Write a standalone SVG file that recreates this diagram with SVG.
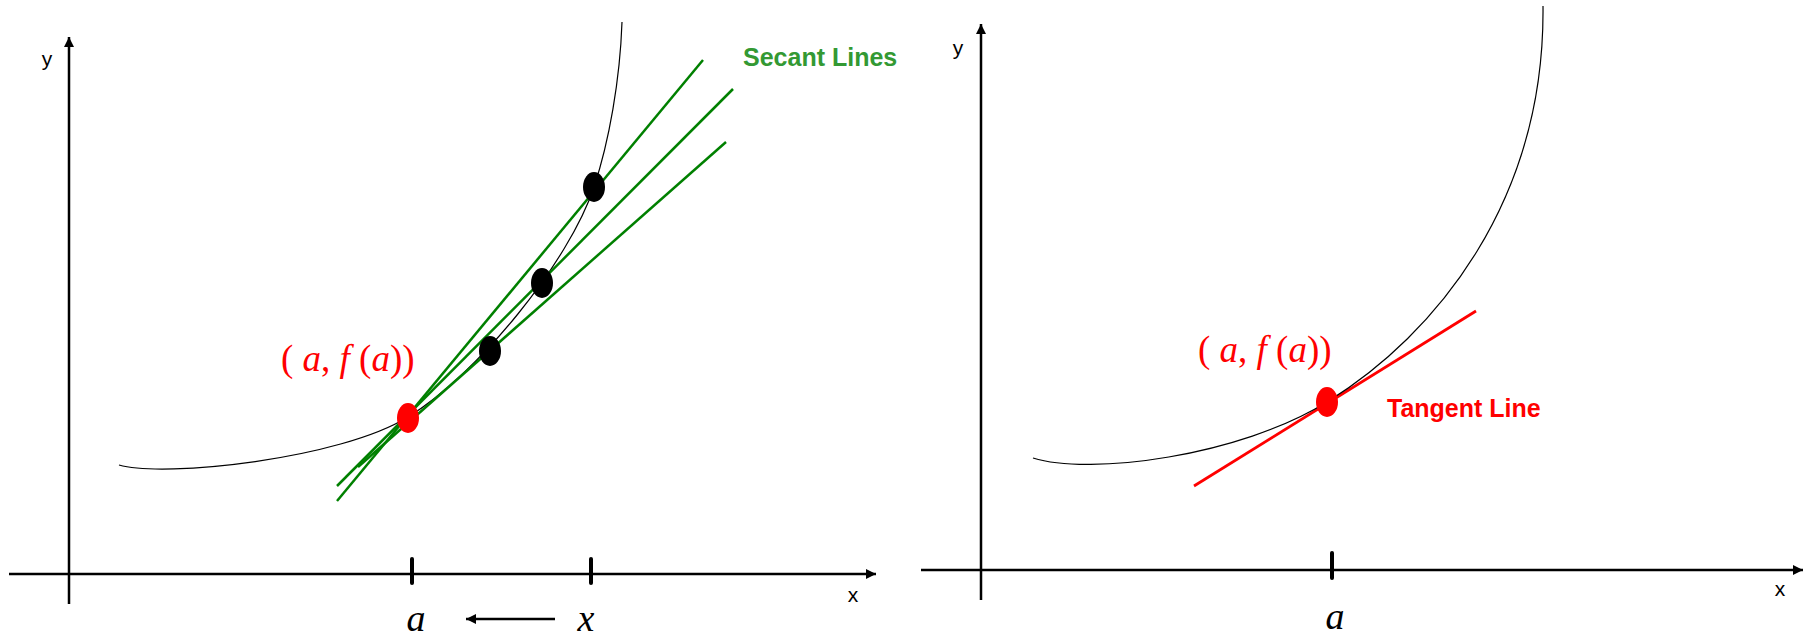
<svg xmlns="http://www.w3.org/2000/svg" width="1807" height="639" viewBox="0 0 1807 639">
<style>
.axis{stroke:#000;stroke-width:2.5;fill:none}
.tick{stroke:#000;stroke-width:4;stroke-linecap:round}
.curve{stroke:#000;stroke-width:1.2;fill:none}
.sec{stroke:#008000;stroke-width:2.5}
.tan{stroke:#ff0000;stroke-width:2.8}
.lbl{font-family:"Liberation Sans",Arial,sans-serif;font-size:21px;fill:#000}
.math{font-family:"Liberation Serif","Times New Roman",serif;font-size:37px;fill:#ff0000}
.var{font-family:"Liberation Serif","Times New Roman",serif;font-size:38px;font-style:italic;fill:#000}
.it{font-style:italic}
.bold{font-family:"Liberation Sans",Arial,sans-serif;font-size:25px;font-weight:bold}
</style>
<defs>
<marker id="ah" markerUnits="userSpaceOnUse" markerWidth="12" markerHeight="10" refX="10" refY="5" orient="auto">
<path d="M0,0 L10,5 L0,10 z" fill="#000"/>
</marker>
</defs>
<rect width="1807" height="639" fill="#fff"/>

<g id="left-axes">
<line class="axis" x1="9" y1="574" x2="876" y2="574" marker-end="url(#ah)"/>
<line class="axis" x1="69" y1="604" x2="69" y2="37" marker-end="url(#ah)"/>
<line class="tick" x1="412" y1="559" x2="412" y2="583"/>
<line class="tick" x1="591" y1="559" x2="591" y2="583"/>
<text class="lbl" x="853" y="602" text-anchor="middle">x</text>
<text class="lbl" x="47" y="66" text-anchor="middle">y</text>
</g>

<g id="left-curve">
<path class="curve" d="M119,465 C165,478 340,459 408,417 C478,374 569,262 594,187 C609,142 620,80 622,22"/>
</g>

<g id="connectors">
<line class="sec" x1="337" y1="501" x2="703" y2="60"/>
<line class="sec" x1="337" y1="486" x2="733" y2="89"/>
<line class="sec" x1="358" y1="467" x2="726" y2="142"/>
<line class="tan" x1="1194" y1="486" x2="1476" y2="311"/>
<line x1="555" y1="619" x2="466" y2="619" stroke="#000" stroke-width="2.5" marker-end="url(#ah)"/>
</g>

<g id="left-points">
<ellipse cx="490" cy="351" rx="11" ry="15" fill="#000"/>
<ellipse cx="542" cy="283" rx="11" ry="15" fill="#000"/>
<ellipse cx="594" cy="187" rx="11" ry="15" fill="#000"/>
<ellipse cx="408" cy="418" rx="11" ry="15" fill="#ff0000"/>
</g>

<g id="left-labels">
<text class="math" x="281" y="371">( <tspan class="it">a</tspan>, <tspan class="it">f</tspan> (<tspan class="it">a</tspan>))</text>
<text class="bold" x="743" y="66" fill="#339933">Secant Lines</text>
<text class="var" x="416" y="631" text-anchor="middle">a</text>
<text class="var" x="586" y="631" text-anchor="middle">x</text>
</g>

<g id="right-axes">
<line class="axis" x1="921" y1="570" x2="1803" y2="570" marker-end="url(#ah)"/>
<line class="axis" x1="981" y1="600" x2="981" y2="24" marker-end="url(#ah)"/>
<line class="tick" x1="1332" y1="553" x2="1332" y2="578"/>
<text class="lbl" x="1780" y="596" text-anchor="middle">x</text>
<text class="lbl" x="958" y="55" text-anchor="middle">y</text>
</g>

<g id="right-curve">
<path class="curve" d="M1033,458 C1090,476 1240,456 1327,402 C1437,334 1545,200 1543,6"/>
</g>

<g id="right-point">
<ellipse cx="1327" cy="402" rx="11" ry="15" fill="#ff0000"/>
</g>

<g id="right-labels">
<text class="math" x="1198" y="362">( <tspan class="it">a</tspan>, <tspan class="it">f</tspan> (<tspan class="it">a</tspan>))</text>
<text class="bold" x="1387" y="417" fill="#ff0000">Tangent Line</text>
<text class="var" x="1335" y="629" text-anchor="middle">a</text>
</g>
</svg>
